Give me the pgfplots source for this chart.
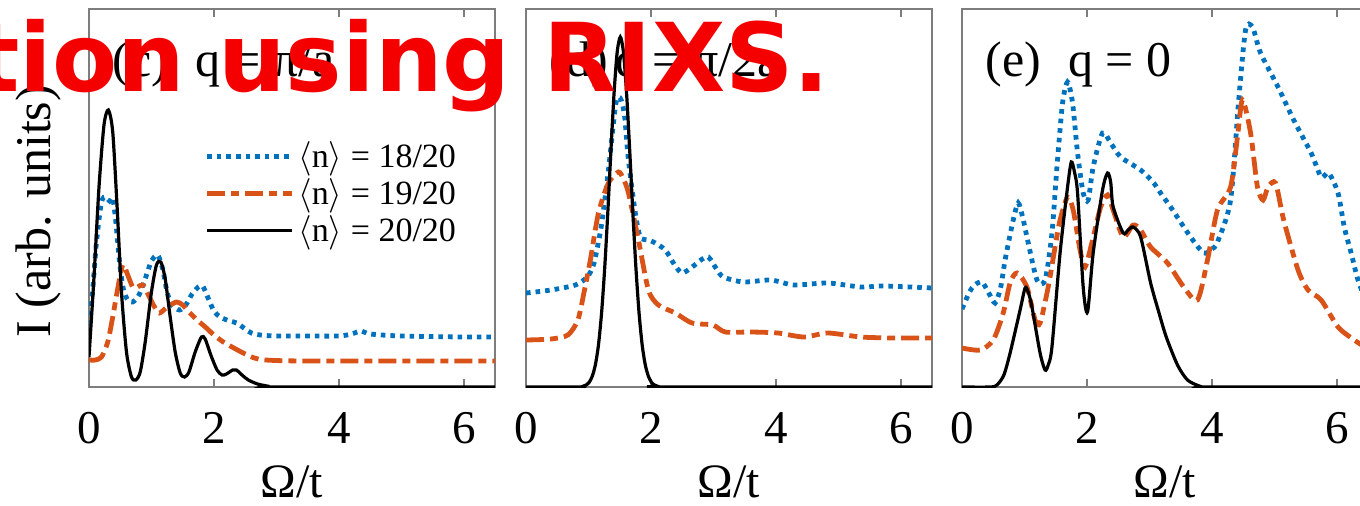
\documentclass[border=0pt]{standalone}
\usepackage{pgfplots}
\pgfplotsset{compat=1.18}
\usepackage{fontspec}
\setmainfont{Liberation Serif}
\newfontfamily\redfont{DejaVu Sans}
\definecolor{mblue}{RGB}{0,114,189}
\definecolor{morange}{RGB}{217,83,25}
\definecolor{framegray}{RGB}{125,125,125}
\definecolor{ovred}{RGB}{245,0,0}

\pgfplotsset{
  /pgf/number format/assume math mode=true,
  panel/.style={
    scale only axis, width=203pt, height=189pt,
    anchor=south west,
    xmin=0, xmax=6.5, ymin=0, ymax=378,
    xtick={0,2,4,6}, ytick=\empty,
    tick align=inside, major tick length=4pt,
    axis line style={framegray, line width=1pt},
    every tick/.style={framegray, line width=0.8pt},
    xticklabel style={font=\fontsize{23.5}{26}\selectfont, anchor=base, yshift=-28pt},
    xlabel={Ω/t},
    xlabel style={font=\fontsize{24}{26}\selectfont, at={(axis description cs:0.5,0)}, anchor=base, yshift=-55pt},
    clip=true,
  },
  sblue/.style={mblue, line width=2.4pt, dash pattern=on 2.3pt off 2.5pt, smooth, tension=0.45},
  sorange/.style={morange, line width=2.4pt, dash pattern=on 9pt off 3pt on 4pt off 3pt, smooth, tension=0.45},
  sblack/.style={black, line width=1.6pt, smooth, tension=0.45},
}

\begin{document}
\begin{tikzpicture}
% ---------------- panel (c)
\begin{axis}[panel, at={(44.5pt,59pt)},
  legend style={draw=none, fill=none, at={(axis description cs:0.284,0.66)}, anchor=north west,
    font=\fontsize{17}{20}\selectfont, inner sep=0pt, row sep=0pt, nodes={inner sep=2pt}},
  legend cell align=left,
  legend image code/.code={\draw[#1] (0pt,0pt) -- (42.5pt,0pt);},
]
\addplot[sblue] coordinates {(0,62) (0.05,90) (0.12,145) (0.2,185) (0.27,190) (0.33,186) (0.38,189) (0.43,165) (0.49,124) (0.55,98) (0.62,87) (0.7,85) (0.8,92) (0.91,110) (1.0,126) (1.1,132) (1.18,118) (1.25,95) (1.33,82) (1.45,77) (1.55,82) (1.65,93) (1.75,100) (1.82,101) (1.9,90) (2.0,76) (2.1,70) (2.25,66) (2.37,64) (2.5,58) (2.6,54) (2.74,52) (3.0,51) (3.5,51) (4.0,51) (4.2,53) (4.36,56) (4.5,53) (5.0,51) (6.0,50) (6.5,50)};
\addlegendentry{$\langle$n$\rangle$ = 18/20}
\addplot[sorange] coordinates {(0,27) (0.1,27) (0.2,30) (0.3,45) (0.38,70) (0.45,95) (0.54,122) (0.62,112) (0.7,100) (0.78,100) (0.86,102) (0.95,92) (1.05,80) (1.13,74) (1.25,80) (1.4,85) (1.5,82) (1.6,75) (1.75,66) (1.88,59) (2.0,52) (2.15,45) (2.29,40) (2.5,33) (2.65,29) (2.83,27) (3.5,26) (6.5,26)};
\addlegendentry{$\langle$n$\rangle$ = 19/20}
\addplot[sblack] coordinates {(0,30) (0.08,110) (0.16,200) (0.24,262) (0.31,277) (0.38,255) (0.45,180) (0.52,95) (0.6,35) (0.68,10) (0.75,7) (0.82,15) (0.9,45) (1.0,95) (1.08,122) (1.15,125) (1.22,108) (1.3,70) (1.38,35) (1.46,14) (1.53,10) (1.6,15) (1.7,35) (1.8,50) (1.86,48) (1.95,32) (2.05,17) (2.13,12) (2.2,13) (2.3,17) (2.36,17) (2.45,12) (2.55,7) (2.7,3) (2.85,1) (3.0,0) (6.5,0)};
\addlegendentry{$\langle$n$\rangle$ = 20/20}
\end{axis}
% ---------------- panel (d)
\begin{axis}[panel, at={(263pt,59pt)}]
\addplot[sblue] coordinates {(0,94) (0.4,97) (0.79,102) (0.98,110) (1.08,122) (1.16,145) (1.22,167) (1.32,217) (1.43,280) (1.48,290) (1.53,286) (1.58,270) (1.64,227) (1.75,174) (1.83,150) (1.95,147) (2.04,145) (2.23,137) (2.38,122) (2.5,114) (2.66,120) (2.8,127) (2.92,130) (3.05,118) (3.16,110) (3.48,105) (3.92,107) (4.29,102) (4.83,104) (5.36,100) (5.73,101) (6.5,99)};
\addplot[sorange] coordinates {(0,47) (0.4,48) (0.67,52) (0.83,67) (0.93,95) (1.03,127) (1.16,174) (1.32,204) (1.48,215) (1.56,208) (1.64,194) (1.8,147) (1.96,97) (2.12,82) (2.39,74) (2.66,64) (2.99,62) (3.19,55) (3.6,55) (4.03,54) (4.45,50) (4.83,54) (5.36,50) (5.89,49) (6.5,49)};
\addplot[sblack] coordinates {(0,0) (0.85,0) (0.91,0.7) (0.96,1.9) (1.01,4.6) (1.06,10.6) (1.11,22) (1.16,42) (1.21,74) (1.26,119) (1.31,175) (1.36,237) (1.41,294) (1.46,335) (1.51,350) (1.56,335) (1.61,294) (1.66,237) (1.71,175) (1.76,119) (1.81,74) (1.86,42) (1.91,22) (1.96,10.6) (2.01,4.6) (2.06,1.9) (2.11,0.7) (2.2,0) (6.5,0)};
\end{axis}
% ---------------- panel (e)
\begin{axis}[panel, at={(481pt,59pt)}]
\addplot[sblue] coordinates {(0,78) (0.12,95) (0.2,102) (0.32,105) (0.42,95) (0.53,84) (0.62,100) (0.69,127) (0.82,167) (0.9,184) (0.97,170) (1.04,150) (1.2,107) (1.33,107) (1.44,154) (1.52,220) (1.61,284) (1.69,305) (1.77,284) (1.85,234) (1.94,194) (2.02,187) (2.1,220) (2.25,254) (2.38,244) (2.54,230) (2.86,217) (3.07,204) (3.2,192) (3.34,180) (3.66,150) (3.87,134) (4.0,138) (4.09,145) (4.3,187) (4.43,287) (4.54,357) (4.65,360) (4.78,334) (5.06,300) (5.31,267) (5.59,234) (5.75,210) (5.87,214) (6.02,194) (6.12,160) (6.23,134) (6.34,107) (6.5,80)};
\addplot[sorange] coordinates {(0,39) (0.29,37) (0.5,47) (0.66,74) (0.77,104) (0.88,114) (1.04,100) (1.17,67) (1.25,64) (1.38,100) (1.49,140) (1.57,167) (1.69,190) (1.78,177) (1.89,137) (1.97,120) (2.09,147) (2.22,180) (2.33,192) (2.42,177) (2.58,150) (2.74,162) (2.86,157) (3.02,140) (3.29,124) (3.55,100) (3.77,87) (3.93,127) (4.09,177) (4.3,200) (4.41,250) (4.49,287) (4.62,254) (4.73,200) (4.82,187) (4.9,200) (5.02,204) (5.15,167) (5.38,117) (5.54,97) (5.75,87) (6.02,60) (6.28,47) (6.5,38)};
\addplot[sblack] coordinates {(0,0) (0.45,0) (0.56,2) (0.67,12) (0.77,34) (0.93,77) (1.01,99) (1.06,95) (1.12,80) (1.25,34) (1.33,17) (1.38,22) (1.44,40) (1.57,134) (1.69,200) (1.75,225) (1.8,215) (1.85,194) (1.94,100) (2.01,75) (2.1,134) (2.25,197) (2.33,214) (2.38,205) (2.42,180) (2.58,154) (2.66,157) (2.74,160) (2.86,150) (3.02,104) (3.15,75) (3.27,50) (3.45,22) (3.61,7) (3.8,1) (3.93,0) (6.5,0)};
\end{axis}
% titles and y label
\node[anchor=base west, font=\fontsize{25}{28}\selectfont, inner sep=0pt] at (56pt,214.5pt) {(c)\hspace{0.55em}q = π/a};
\node[anchor=base west, font=\fontsize{25}{28}\selectfont, inner sep=0pt] at (274.5pt,214.5pt) {(d)\hspace{0.15em}q = π/2a};
\node[anchor=base west, font=\fontsize{25}{28}\selectfont, inner sep=0pt] at (492.5pt,214.5pt) {(e)\hspace{0.55em}q = 0};
\node[rotate=90, anchor=base west, font=\fontsize{25}{28}\selectfont, inner sep=0pt] at (25pt,83.5pt) {I (arb. units)};
% overlay text
\node[anchor=base west, inner sep=0pt, text=ovred, font=\redfont\bfseries\fontsize{47.5}{50}\selectfont] at (-13pt,207pt) {tion using RIXS.};
\pgfresetboundingbox
\useasboundingbox (0pt,0pt) rectangle (680pt,252.5pt);
\end{tikzpicture}
\end{document}
